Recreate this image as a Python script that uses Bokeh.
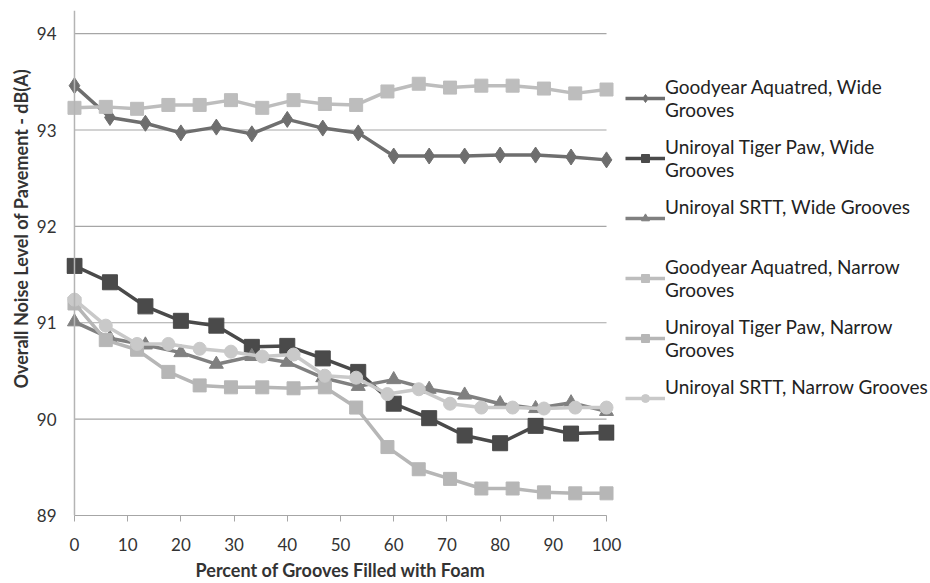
from bokeh.plotting import figure
from bokeh.models import Range1d, Legend, LegendItem, Span, FixedTicker, Title
from bokeh.embed import file_html
from bokeh.resources import INLINE

# x positions: wide-groove tests at 16 fill levels, narrow-groove tests at 18
x_wide = [i * 100 / 15 for i in range(16)]
x_narrow = [i * 100 / 17 for i in range(18)]

goodyear_wide = [93.46, 93.13, 93.07, 92.97, 93.03, 92.96, 93.11, 93.02, 92.97,
                 92.73, 92.73, 92.73, 92.74, 92.74, 92.72, 92.69]
tigerpaw_wide = [91.59, 91.42, 91.17, 91.02, 90.97, 90.75, 90.76, 90.63, 90.49,
                 90.16, 90.01, 89.83, 89.75, 89.93, 89.85, 89.86]
srtt_wide = [91.01, 90.84, 90.77, 90.69, 90.57, 90.65, 90.59, 90.43, 90.34,
             90.41, 90.31, 90.25, 90.16, 90.11, 90.17, 90.08]
goodyear_narrow = [93.23, 93.24, 93.22, 93.26, 93.26, 93.31, 93.23, 93.31, 93.27,
                   93.26, 93.40, 93.48, 93.44, 93.46, 93.46, 93.43, 93.38, 93.42]
tigerpaw_narrow = [91.20, 90.82, 90.72, 90.49, 90.35, 90.33, 90.33, 90.32, 90.33,
                   90.12, 89.71, 89.48, 89.38, 89.28, 89.28, 89.24, 89.23, 89.23]
srtt_narrow = [91.24, 90.97, 90.78, 90.78, 90.73, 90.70, 90.65, 90.67, 90.45,
               90.43, 90.26, 90.31, 90.16, 90.12, 90.12, 90.11, 90.12, 90.12]

labels = ["Goodyear Aquatred, Wide\nGrooves",
          "Uniroyal Tiger Paw, Wide\nGrooves",
          "Uniroyal SRTT, Wide Grooves\n\u00a0",
          "Goodyear Aquatred, Narrow\nGrooves",
          "Uniroyal Tiger Paw, Narrow\nGrooves",
          "Uniroyal SRTT, Narrow Grooves\n\u00a0"]

x_ticks = [0, 10, 20, 30, 40, 50, 60, 70, 80, 90, 100]
y_ticks = [89, 90, 91, 92, 93, 94]

FONT = "Lato"

p = figure(output_backend="svg", toolbar_location=None,
           x_range=Range1d(-1.5, 101.5), y_range=Range1d(89, 94.24),
           frame_width=548, frame_height=505,
           min_border_left=66, min_border_top=10, min_border_bottom=58,
           min_border_right=308)
p.outline_line_color = None
p.xgrid.visible = False
p.ygrid.visible = False

# horizontal grid lines spanning 0..100
p.segment(x0=[x_ticks[0]] * len(y_ticks), x1=[x_ticks[-1]] * len(y_ticks),
          y0=y_ticks, y1=y_ticks, line_color="#a6a6a6", line_width=1.2)

# y axis line at x=0
p.add_layout(Span(location=0, dimension="height", line_color="#b4b4b4", line_width=1.5))

series = [
    (x_wide, goodyear_wide, "#6e6e6e", "diamond", 16),
    (x_wide, tigerpaw_wide, "#4a4a4a", "square", 15),
    (x_wide, srtt_wide, "#808080", "triangle", 14),
    (x_narrow, goodyear_narrow, "#bdbdbd", "square", 13),
    (x_narrow, tigerpaw_narrow, "#b6b6b6", "square", 13),
    (x_narrow, srtt_narrow, "#c9c9c9", "circle", 13),
]

items = []
for (xs, ys, col, mk, sz), lab in zip(series, labels):
    r1 = p.line(xs, ys, line_color=col, line_width=3.5)
    r2 = p.scatter(xs, ys, marker=mk, size=sz, fill_color=col, line_color=col)
    items.append(LegendItem(label=lab, renderers=[r1, r2]))

legend = Legend(items=items, location=(11, 94), border_line_color=None,
                background_fill_alpha=0, label_text_font=FONT,
                label_text_font_size="19px", label_text_color="#222222",
                glyph_width=40, glyph_height=20, label_standoff=0,
                label_height=25, spacing=14, padding=0, margin=0,
                label_text_line_height=1.4)
p.add_layout(legend, "right")

p.xaxis.ticker = FixedTicker(ticks=x_ticks)
p.yaxis.ticker = FixedTicker(ticks=y_ticks)
p.xaxis.bounds = (0, 100)
p.xaxis.axis_line_color = "#a6a6a6"
p.xaxis.major_tick_line_color = "#a6a6a6"
p.xaxis.major_tick_out = 6
p.xaxis.major_tick_in = 0
p.xaxis.minor_tick_line_color = None
p.yaxis.axis_line_color = None
p.yaxis.major_tick_line_color = None
p.yaxis.minor_tick_line_color = None

for ax in (p.xaxis, p.yaxis):
    ax.major_label_text_font = FONT
    ax.major_label_text_font_size = "17px"
    ax.major_label_text_color = "#333333"
    ax.axis_label_text_font = FONT
    ax.axis_label_text_font_style = "bold"
    ax.axis_label_text_font_size = "18px"
    ax.axis_label_text_color = "#333333"

p.xaxis.axis_label = "Percent of Grooves Filled with Foam"
p.xaxis.major_label_standoff = 16
p.xaxis.axis_label_standoff = 5
p.yaxis.major_label_standoff = 4

ytitle = Title(text="Overall Noise Level of Pavement - dB(A)", align="left",
               offset=127, text_font=FONT, text_font_style="bold",
               text_font_size="18px", text_color="#333333", standoff=4)
p.add_layout(ytitle, "left")

open("out.html", "w").write(file_html(p, INLINE))
